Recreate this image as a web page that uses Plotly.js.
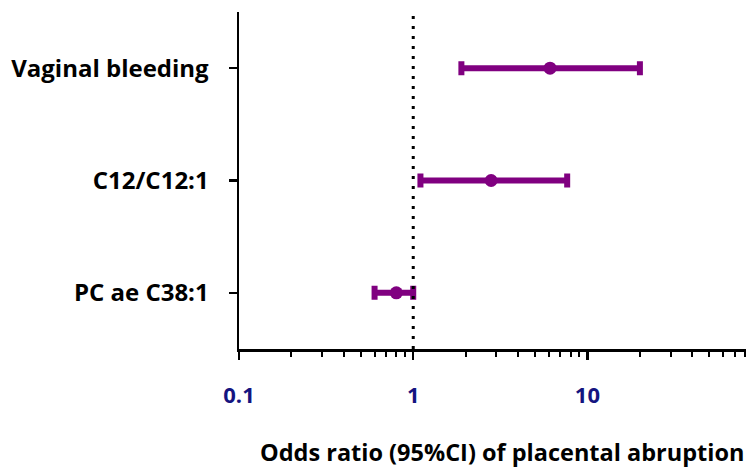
<!DOCTYPE html>
<html>
<head>
<meta charset="utf-8">
<script src="https://cdn.plot.ly/plotly-3.0.1.min.js"></script>
<style>html,body{margin:0;padding:0;background:#fff;}#chart{width:746px;height:468px;}</style>
</head>
<body>
<div id="chart"></div>
<script>
// Data
var categories = ["PC ae C38:1", "C12/C12:1", "Vaginal bleeding"];
var oddsRatio = [0.80, 2.80, 6.10];
var ciLow = [0.60, 1.10, 1.89];
var ciHigh = [1.00, 7.65, 20.0];
var xTickVals = [0.1, 1, 10];
var xTickText = ["0.1", "1", "10"];
var xTitle = "Odds ratio (95%CI) of placental abruption";

var plus = oddsRatio.map(function (v, i) { return ciHigh[i] - v; });
var minus = oddsRatio.map(function (v, i) { return v - ciLow[i]; });

var FONT = "'Open Sans', Lato, sans-serif";
var purple = "#800080";

var trace = {
  type: "scatter",
  mode: "markers",
  x: oddsRatio,
  y: categories,
  marker: { color: purple, size: 13, symbol: "circle" },
  error_x: {
    type: "data", symmetric: false, array: plus, arrayminus: minus,
    color: purple, thickness: 6, width: 7
  },
  hoverinfo: "skip",
  cliponaxis: false
};

var layout = {
  width: 746, height: 468,
  margin: { l: 239, r: 0, t: 12, b: 119 },
  paper_bgcolor: "#fff", plot_bgcolor: "#fff",
  showlegend: false,
  xaxis: {
    type: "log",
    range: [-1, 1.91],
    tickvals: xTickVals,
    ticktext: xTickText,
    ticks: "outside", ticklen: 8, tickwidth: 2.5, tickcolor: "#000",
    minor: { dtick: "D1", ticks: "outside", ticklen: 5, tickwidth: 2, tickcolor: "#000", showgrid: false },
    showline: true, linecolor: "#000", linewidth: 2.5,
    showgrid: false, zeroline: false,
    ticklabelstandoff: 17,
    tickfont: { family: FONT, size: 22, color: "#141480", weight: "bold" }
  },
  yaxis: {
    type: "category",
    categoryorder: "array", categoryarray: categories,
    range: [-0.5, 2.5],
    ticks: "outside", ticklen: 8, tickwidth: 2.5, tickcolor: "#000",
    showline: true, linecolor: "#000", linewidth: 2.5,
    showgrid: false, zeroline: false,
    ticklabelstandoff: 15,
    tickfont: { family: FONT, size: 24, color: "#000", weight: "bold" }
  },
  shapes: [{
    type: "line", xref: "x", yref: "paper",
    x0: 1, x1: 1, y0: 0, y1: 1,
    line: { color: "#000", width: 3, dash: "3px,7px" }
  }],
  annotations: [{
    text: xTitle, xref: "paper", yref: "paper",
    x: 1, xanchor: "right", y: -0.3056, yanchor: "middle",
    showarrow: false,
    font: { family: FONT, size: 23.5, color: "#000", weight: "bold" }
  }]
};

Plotly.newPlot("chart", [trace], layout, { staticPlot: true, displayModeBar: false });
</script>
</body>
</html>
